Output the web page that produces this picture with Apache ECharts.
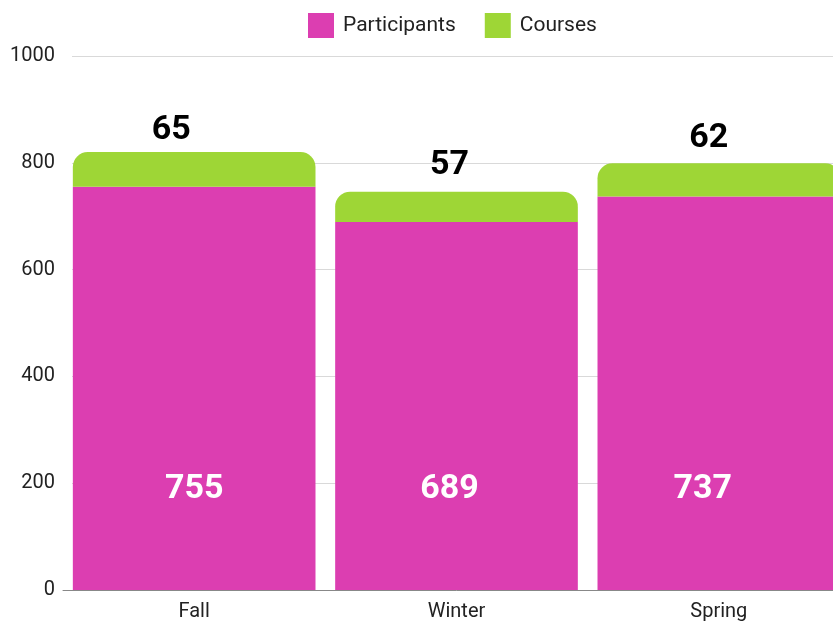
<!DOCTYPE html>
<html><head><meta charset="utf-8">
<script src="https://cdn.jsdelivr.net/npm/echarts@6/dist/echarts.min.js"></script>
<style>html,body{margin:0;padding:0;overflow:hidden;background:#fff;width:833px;height:622px}#c{width:850px;height:622px}</style>
</head><body><div id="c"></div>
<script>
const categories = ['Fall', 'Winter', 'Spring'];
const participants = [755, 689, 737];
const courses = [65, 57, 62];
const yTicks = [0, 200, 400, 600, 800, 1000];

// label nudges observed in the reference (style only)
const innerLabelShift = [[0, 0], [-7, 0], [-16, 0]];
const topLabelShift = [[-23, 5], [-7, 1], [-10, 2]];

const chart = echarts.init(document.getElementById('c'), null, {renderer: 'canvas'});
const font = 'Roboto';
chart.setOption({
  animation: false,
  textStyle: {fontFamily: font},
  legend: {
    data: ['Participants', 'Courses'],
    left: 303, top: 8,
    itemWidth: 26, itemHeight: 25, itemGap: 29,
    icon: 'rect',
    textStyle: {fontFamily: font, fontSize: 21, color: '#222', padding: [0, 0, 0, 4]}
  },
  grid: [
    {left: 72, right: 0, top: 56, bottom: 32},
    {left: 63, right: 0, top: 56, bottom: 32}
  ],
  xAxis: [
    {gridIndex: 0, type: 'category', data: categories, show: false},
    {gridIndex: 1, type: 'category', data: categories,
     axisLine: {lineStyle: {color: '#888'}}, axisTick: {show: false},
     axisLabel: {fontFamily: font, fontSize: 20, color: '#222', margin: 12}}
  ],
  yAxis: [
    {gridIndex: 0, type: 'value', min: 0, max: 1000, interval: 200,
     axisLabel: {fontFamily: font, fontSize: 20, color: '#222', margin: 17,
       formatter: v => yTicks.includes(v) ? String(v) : ''},
     splitLine: {lineStyle: {color: '#d9d9d9', width: 1}},
     axisLine: {show: false}, axisTick: {show: false}},
    {gridIndex: 1, type: 'value', min: 0, max: 1000, interval: 200, show: false,
     splitLine: {show: false}}
  ],
  series: [
    {name: 'Participants', type: 'bar', stack: 's', xAxisIndex: 1, yAxisIndex: 1,
     data: participants.map((v, i) => ({value: v, label: {offset: innerLabelShift[i]}})),
     barCategoryGap: '7.5%',
     itemStyle: {color: '#dc3eb1'},
     label: {show: true, position: 'insideBottom', distance: 84,
       fontFamily: font, fontSize: 34, fontWeight: 'bold', color: '#fff'}},
    {name: 'Courses', type: 'bar', stack: 's', xAxisIndex: 1, yAxisIndex: 1,
     data: courses.map((v, i) => ({value: v, label: {offset: topLabelShift[i]}})),
     barCategoryGap: '7.5%',
     itemStyle: {color: '#9ed636', borderRadius: [15, 15, 0, 0]},
     label: {show: true, position: 'top', distance: 10,
       fontFamily: font, fontSize: 34, fontWeight: 'bold', color: '#000'}}
  ]
});
</script></body></html>
